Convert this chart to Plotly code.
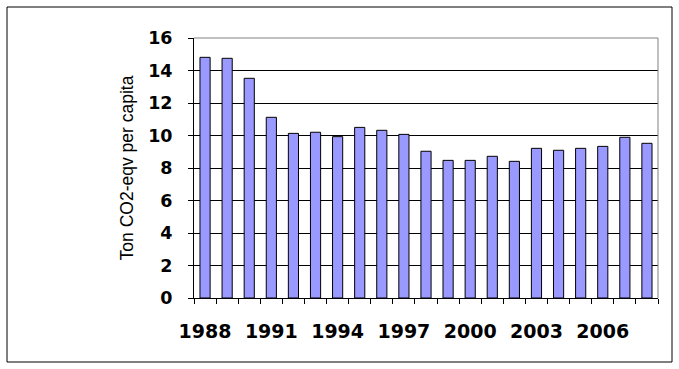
import plotly.graph_objects as go

years = list(range(1988, 2009))
values = [14.81, 14.75, 13.52, 11.12, 10.13, 10.2, 9.93, 10.5, 10.32, 10.07,
          9.03, 8.47, 8.47, 8.72, 8.41, 9.21, 9.09, 9.21, 9.33, 9.89, 9.52]
label_years = [1988, 1991, 1994, 1997, 2000, 2003, 2006]
y_ticks = [0, 2, 4, 6, 8, 10, 12, 14, 16]

W, H = 679, 369
L, R, T, B = 194, 21, 38, 71
pw, ph = W - L - R, H - T - B

def px(x):
    return (x - L) / pw

def py(y):
    return (H - B - y) / ph

fig = go.Figure()
fig.add_trace(go.Bar(
    x=years, y=values,
    marker=dict(color="#9999FF", line=dict(color="black", width=1)),
    width=0.46,
))

fig.update_layout(
    width=W, height=H,
    margin=dict(l=L, r=R, t=T, b=B),
    paper_bgcolor="white", plot_bgcolor="white",
    showlegend=False,
    xaxis=dict(
        range=[1987.5, 2008.5],
        tickmode="array", tickvals=label_years,
        ticktext=[str(y) for y in label_years],
        ticks="", showgrid=False, zeroline=False,
        showline=True, linecolor="black", linewidth=1,
        ticklabelstandoff=16,
        tickfont=dict(family="DejaVu Sans", size=19, color="black", weight="bold"),
        minor=dict(ticks="outside", tick0=1987.5, dtick=1, ticklen=5,
                   tickcolor="black", showgrid=False),
    ),
    yaxis=dict(
        range=[0, 16], tickvals=y_ticks,
        ticks="outside", ticklen=5, tickcolor="black",
        showgrid=True, gridcolor="black", gridwidth=1,
        zeroline=False,
        showline=True, linecolor="black", linewidth=1,
        ticklabelstandoff=12,
        tickfont=dict(family="DejaVu Sans", size=17.5, color="black", weight="bold"),
        title=dict(text="Ton CO2-eqv per capita", standoff=10,
                   font=dict(family="Liberation Sans", size=17.5, color="black")),
    ),
    shapes=[
        dict(type="line", xref="paper", yref="paper", x0=0, x1=1, y0=1, y1=1,
             line=dict(color="#808080", width=1)),
        dict(type="line", xref="paper", yref="paper", x0=1, x1=1, y0=0, y1=1,
             line=dict(color="#808080", width=1)),
        dict(type="rect", xref="paper", yref="paper",
             x0=px(7), x1=px(672), y0=py(362), y1=py(7),
             line=dict(color="black", width=1)),
    ],
)

fig.write_html("out.html")
